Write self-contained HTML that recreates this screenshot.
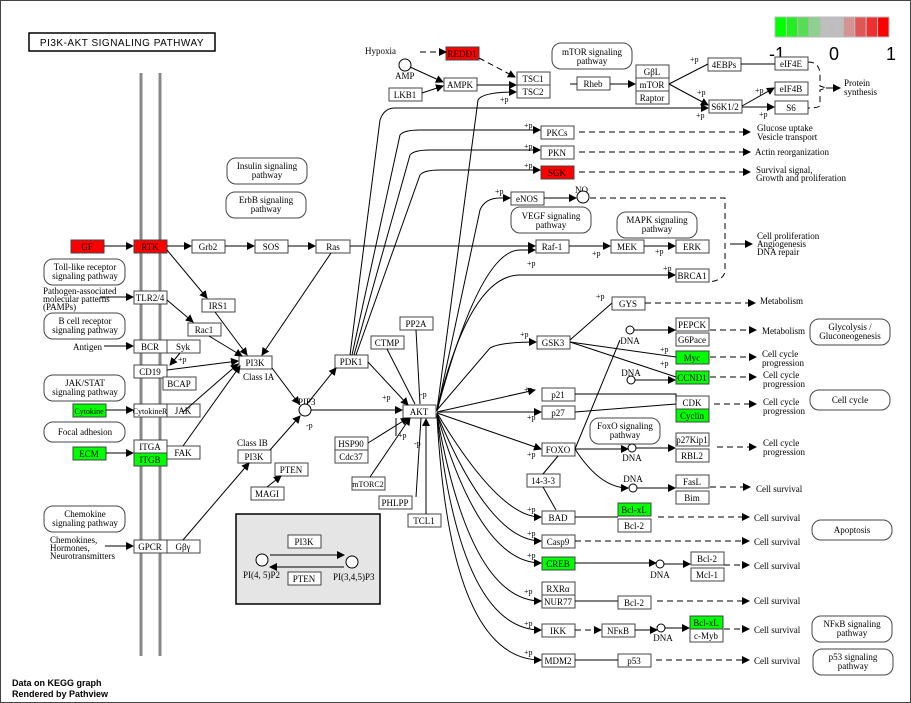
<!DOCTYPE html>
<html><head><meta charset="utf-8"><style>
body{margin:0;background:#fff}
svg{display:block;font-family:"Liberation Serif",serif;font-size:9px}
.b{fill:#fff;stroke:#444;stroke-width:1}
.r{fill:#f00;stroke:#444}
.g{fill:#0f0;stroke:#444}
.l{stroke:#000;fill:none;stroke-width:1}
.d{stroke:#000;fill:none;stroke-dasharray:6,4}
.rd{fill:#fff;stroke:#444;rx:9}
text{fill:#000}
.c{text-anchor:middle}
</style></head><body>
<svg width="911" height="703" viewBox="0 0 911 703">
<defs><marker id="a" markerWidth="8" markerHeight="8" refX="7" refY="4" orient="auto" markerUnits="userSpaceOnUse"><path d="M0,0L8,4L0,8z"/></marker>
<marker id="t" markerWidth="2" markerHeight="10" refX="1" refY="5" orient="auto" markerUnits="userSpaceOnUse"><path d="M1,0V10" stroke="#000"/></marker></defs>
<rect x="0.5" y="0.5" width="910" height="702" fill="#fff" stroke="#444"/>
<rect x="29" y="33" width="186" height="18" fill="#fff" stroke="#000" stroke-width="1.5"/>
<text x="122" y="46" class="c" style="font-family:'Liberation Sans',sans-serif;font-size:10px;letter-spacing:0.5px">PI3K-AKT SIGNALING PATHWAY</text>
<line x1="141" y1="73" x2="141" y2="656" stroke="#888" stroke-width="3"/>
<line x1="160" y1="73" x2="160" y2="656" stroke="#888" stroke-width="3"/>
<g stroke="#bbb"><rect x="775" y="17" width="11.4" height="20" fill="#00ff00"/><rect x="786.4" y="17" width="11.4" height="20" fill="#22ee22"/><rect x="797.8" y="17" width="11.4" height="20" fill="#55dd55"/><rect x="809.2" y="17" width="11.4" height="20" fill="#8fcf8f"/><rect x="820.6" y="17" width="11.4" height="20" fill="#bebebe"/><rect x="832" y="17" width="11.4" height="20" fill="#bebebe"/><rect x="843.4" y="17" width="11.4" height="20" fill="#d49494"/><rect x="854.8" y="17" width="11.4" height="20" fill="#e05555"/><rect x="866.2" y="17" width="11.4" height="20" fill="#ee3030"/><rect x="877.6" y="17" width="11.4" height="20" fill="#ff0000"/></g>
<g style="font-family:'Liberation Sans',sans-serif;font-size:18px" class="c"><text x="777" y="60">-1</text><text x="834" y="60">0</text><text x="891" y="60">1</text></g>
<g class="rd">
<rect class="rd" x="227" y="158" width="80" height="26" rx="9"/><rect class="rd" x="226" y="192" width="80" height="26" rx="9"/>
<rect class="rd" x="44" y="259" width="81" height="26" rx="9"/><rect class="rd" x="44" y="313" width="81" height="26" rx="9"/>
<rect class="rd" x="44" y="375" width="81" height="26" rx="9"/><rect class="rd" x="44" y="422" width="81" height="20" rx="9"/>
<rect class="rd" x="44" y="506" width="81" height="26" rx="9"/>
<rect class="rd" x="552" y="43" width="80" height="26" rx="9"/><rect class="rd" x="511" y="207" width="80" height="26" rx="9"/>
<rect class="rd" x="617" y="212" width="80" height="26" rx="9"/><rect class="rd" x="810" y="319" width="80" height="26" rx="9"/>
<rect class="rd" x="810" y="390" width="80" height="20" rx="9"/><rect class="rd" x="590" y="418" width="70" height="26" rx="9"/>
<rect class="rd" x="812" y="520" width="80" height="20" rx="9"/><rect class="rd" x="812" y="616" width="80" height="26" rx="9"/>
<rect class="rd" x="813" y="649" width="80" height="26" rx="9"/>
</g>
<g class="c">
<text x="267" y="169">Insulin signaling</text><text x="267" y="178">pathway</text>
<text x="266" y="203">ErbB signaling</text><text x="266" y="212">pathway</text>
<text x="85" y="270">Toll-like receptor</text><text x="85" y="279">signaling pathway</text>
<text x="85" y="324">B cell receptor</text><text x="85" y="333">signaling pathway</text>
<text x="85" y="386">JAK/STAT</text><text x="85" y="395">signaling pathway</text>
<text x="85" y="435">Focal adhesion</text>
<text x="85" y="517">Chemokine</text><text x="85" y="526">signaling pathway</text>
<text x="592" y="55">mTOR signaling</text><text x="592" y="64">pathway</text>
<text x="551" y="219">VEGF signaling</text><text x="551" y="228">pathway</text>
<text x="657" y="223">MAPK signaling</text><text x="657" y="232">pathway</text>
<text x="850" y="330">Glycolysis /</text><text x="850" y="339">Gluconeogenesis</text>
<text x="850" y="403">Cell cycle</text>
<text x="625" y="429">FoxO signaling</text><text x="625" y="438">pathway</text>
<text x="852" y="533">Apoptosis</text>
<text x="852" y="627">NFκB signaling</text><text x="852" y="636">pathway</text>
<text x="853" y="660">p53 signaling</text><text x="853" y="669">pathway</text>
</g>
<rect x="236" y="514" width="144" height="90" fill="#e5e5e5" stroke="#000" stroke-width="1.5"/>
<g>
<rect class="r" x="71" y="240" width="33" height="13"/><rect class="r" x="134" y="240" width="33" height="13"/>
<rect class="b" x="192" y="240" width="33" height="13"/><rect class="b" x="255" y="240" width="33" height="13"/><rect class="b" x="316" y="240" width="34" height="13"/>
<rect class="b" x="134" y="291" width="33" height="13"/><rect class="b" x="202" y="299" width="33" height="13"/><rect class="b" x="188" y="323" width="33" height="13"/>
<rect class="b" x="134" y="340" width="33" height="13"/><rect class="b" x="167" y="340" width="33" height="13"/>
<rect class="b" x="134" y="365" width="33" height="13"/><rect class="b" x="163" y="377" width="33" height="13"/>
<rect class="b" x="239" y="356" width="33" height="13"/>
<rect class="g" x="73" y="404" width="33" height="13"/><rect class="b" x="134" y="404" width="33" height="13"/><rect class="b" x="167" y="404" width="33" height="13"/>
<rect class="g" x="73" y="447" width="33" height="13"/><rect class="b" x="134" y="440" width="33" height="13"/><rect class="g" x="134" y="453" width="33" height="13"/><rect class="b" x="167" y="446" width="33" height="13"/>
<rect class="b" x="134" y="540" width="33" height="13"/><rect class="b" x="167" y="540" width="33" height="13"/>
<rect class="b" x="238" y="450" width="33" height="13"/><rect class="b" x="275" y="463" width="33" height="13"/><rect class="b" x="251" y="487" width="33" height="13"/>
<rect class="b" x="335" y="355" width="33" height="13"/><rect class="b" x="371" y="336" width="33" height="13"/><rect class="b" x="400" y="317" width="33" height="13"/>
<rect class="b" x="403" y="405" width="33" height="13"/>
<rect class="b" x="335" y="437" width="33" height="13"/><rect class="b" x="335" y="450" width="33" height="13"/>
<rect class="b" x="352" y="477" width="33" height="13"/><rect class="b" x="379" y="496" width="33" height="13"/><rect class="b" x="408" y="514" width="33" height="13"/>
<rect class="b" x="288" y="535" width="33" height="13"/><rect class="b" x="288" y="572" width="33" height="13"/>
<rect class="r" x="446" y="47" width="33" height="13"/><rect class="b" x="444" y="78" width="33" height="13"/><rect class="b" x="389" y="88" width="33" height="13"/>
<rect class="b" x="517" y="72" width="33" height="13"/><rect class="b" x="517" y="85" width="33" height="13"/><rect class="b" x="577" y="77" width="33" height="13"/>
<rect class="b" x="636" y="65" width="33" height="13"/><rect class="b" x="636" y="78" width="33" height="13"/><rect class="b" x="636" y="91" width="33" height="13"/>
<rect class="b" x="708" y="58" width="33" height="13"/><rect class="b" x="775" y="57" width="33" height="13"/><rect class="b" x="775" y="82" width="33" height="13"/>
<rect class="b" x="709" y="100" width="33" height="13"/><rect class="b" x="775" y="101" width="33" height="13"/>
<rect class="b" x="541" y="126" width="33" height="13"/><rect class="b" x="541" y="146" width="33" height="13"/><rect class="r" x="541" y="166" width="33" height="13"/>
<rect class="b" x="511" y="192" width="33" height="13"/>
<rect class="b" x="536" y="240" width="33" height="13"/><rect class="b" x="611" y="240" width="33" height="13"/><rect class="b" x="676" y="240" width="33" height="13"/>
<rect class="b" x="676" y="269" width="33" height="13"/><rect class="b" x="612" y="297" width="33" height="13"/><rect class="b" x="537" y="336" width="33" height="13"/>
<rect class="b" x="676" y="318" width="33" height="13"/><rect class="b" x="676" y="333" width="33" height="13"/>
<rect class="g" x="676" y="351" width="33" height="13"/><rect class="g" x="676" y="371" width="33" height="13"/>
<rect class="b" x="542" y="388" width="33" height="13"/><rect class="b" x="542" y="406" width="33" height="13"/>
<rect class="b" x="676" y="396" width="33" height="13"/><rect class="g" x="676" y="409" width="33" height="13"/>
<rect class="b" x="542" y="443" width="33" height="13"/><rect class="b" x="676" y="433" width="33" height="13"/><rect class="b" x="676" y="449" width="33" height="13"/>
<rect class="b" x="527" y="474" width="33" height="13"/><rect class="b" x="676" y="475" width="33" height="13"/><rect class="b" x="676" y="491" width="33" height="13"/>
<rect class="b" x="542" y="511" width="33" height="13"/><rect class="g" x="618" y="503" width="33" height="13"/><rect class="b" x="618" y="519" width="33" height="13"/>
<rect class="b" x="542" y="535" width="33" height="13"/>
<rect class="g" x="542" y="557" width="33" height="13"/><rect class="b" x="691" y="552" width="33" height="13"/><rect class="b" x="691" y="568" width="33" height="13"/>
<rect class="b" x="542" y="582" width="33" height="13"/><rect class="b" x="542" y="595" width="33" height="13"/><rect class="b" x="618" y="596" width="33" height="13"/>
<rect class="b" x="542" y="624" width="33" height="13"/><rect class="b" x="602" y="624" width="33" height="13"/>
<rect class="g" x="690" y="616" width="33" height="13"/><rect class="b" x="690" y="629" width="33" height="13"/>
<rect class="b" x="542" y="654" width="33" height="13"/><rect class="b" x="618" y="654" width="33" height="13"/>
</g>
<g class="c">
<text x="87" y="250">GF</text><text x="150" y="250">RTK</text><text x="208" y="250">Grb2</text><text x="271" y="250">SOS</text><text x="333" y="250">Ras</text>
<text x="150" y="301">TLR2/4</text><text x="218" y="309">IRS1</text><text x="204" y="333">Rac1</text>
<text x="150" y="350">BCR</text><text x="183" y="350">Syk</text><text x="150" y="375">CD19</text><text x="179" y="387">BCAP</text>
<text x="255" y="366">PI3K</text>
<text x="89" y="414" style="font-size:8px">Cytokine</text><text x="150" y="414" style="font-size:8px">CytokineR</text><text x="183" y="414">JAK</text>
<text x="89" y="457">ECM</text><text x="150" y="450">ITGA</text><text x="150" y="463">ITGB</text><text x="183" y="456">FAK</text>
<text x="150" y="550">GPCR</text><text x="183" y="550">Gβγ</text>
<text x="254" y="460">PI3K</text><text x="291" y="473">PTEN</text><text x="267" y="497">MAGI</text>
<text x="351" y="365">PDK1</text><text x="387" y="346">CTMP</text><text x="416" y="327">PP2A</text><text x="419" y="415">AKT</text>
<text x="351" y="447">HSP90</text><text x="351" y="460">Cdc37</text><text x="368" y="487" style="font-size:8px">mTORC2</text><text x="395" y="506">PHLPP</text><text x="424" y="524">TCL1</text>
<text x="304" y="545">PI3K</text><text x="304" y="582">PTEN</text>
<text x="462" y="57">REDD1</text><text x="460" y="88">AMPK</text><text x="405" y="98">LKB1</text>
<text x="533" y="82">TSC1</text><text x="533" y="95">TSC2</text><text x="593" y="87">Rheb</text>
<text x="652" y="75">GβL</text><text x="652" y="88">mTOR</text><text x="652" y="101">Raptor</text>
<text x="724" y="68">4EBPs</text><text x="791" y="67">eIF4E</text><text x="791" y="92">eIF4B</text><text x="725" y="110">S6K1/2</text><text x="791" y="111">S6</text>
<text x="557" y="136">PKCs</text><text x="557" y="156">PKN</text><text x="557" y="176">SGK</text><text x="527" y="202">eNOS</text>
<text x="552" y="250">Raf-1</text><text x="627" y="250">MEK</text><text x="692" y="250">ERK</text><text x="692" y="279">BRCA1</text>
<text x="628" y="307">GYS</text><text x="553" y="346">GSK3</text><text x="692" y="328">PEPCK</text><text x="692" y="343">G6Pace</text>
<text x="692" y="361">Myc</text><text x="692" y="381">CCND1</text><text x="558" y="398">p21</text><text x="558" y="416">p27</text>
<text x="692" y="406">CDK</text><text x="692" y="419">Cyclin</text><text x="558" y="453">FOXO</text><text x="692" y="443">p27Kip1</text><text x="692" y="459">RBL2</text>
<text x="543" y="484">14-3-3</text><text x="692" y="485">FasL</text><text x="692" y="501">Bim</text>
<text x="558" y="521">BAD</text><text x="634" y="513">Bcl-xL</text><text x="634" y="529">Bcl-2</text><text x="558" y="545">Casp9</text>
<text x="558" y="567">CREB</text><text x="707" y="562">Bcl-2</text><text x="707" y="578">Mcl-1</text>
<text x="558" y="592">RXRα</text><text x="558" y="605">NUR77</text><text x="634" y="606">Bcl-2</text>
<text x="558" y="634">IKK</text><text x="618" y="634">NFκB</text><text x="706" y="626">Bcl-xL</text><text x="706" y="639">c-Myb</text>
<text x="558" y="664">MDM2</text><text x="634" y="664">p53</text>
</g>
<text x="43" y="294">Pathogen-associated</text><text x="43" y="302">molecular patterns</text><text x="43" y="310">(PAMPs)</text>
<text x="73" y="350">Antigen</text><text x="243" y="380">Class IA</text><text x="237" y="446">Class IB</text>
<text x="50" y="543">Chemokines,</text><text x="50" y="551">Hormones,</text><text x="50" y="559">Neurotransmitters</text>
<text x="365" y="54">Hypoxia</text><text x="395" y="79">AMP</text><text x="298" y="405">PIP3</text>
<text x="243" y="578">PI(4, 5)P2</text><text x="333" y="580">PI(3,4,5)P3</text>
<text x="844" y="86">Protein</text><text x="844" y="95">synthesis</text>
<text x="757" y="131">Glucose uptake</text><text x="757" y="140">Vesicle transport</text>
<text x="755" y="155">Actin reorganization</text>
<text x="756" y="173">Survival signal,</text><text x="756" y="181">Growth and proliferation</text>
<text x="757" y="239">Cell proliferation</text><text x="757" y="247">Angiogenesis</text><text x="757" y="255">DNA repair</text>
<text x="760" y="304">Metabolism</text><text x="762" y="334">Metabolism</text>
<text x="762" y="357">Cell cycle</text><text x="762" y="366">progression</text>
<text x="763" y="378">Cell cycle</text><text x="763" y="387">progression</text>
<text x="763" y="405">Cell cycle</text><text x="763" y="414">progression</text>
<text x="763" y="446">Cell cycle</text><text x="763" y="455">progression</text>
<text x="756" y="492">Cell survival</text><text x="754" y="521">Cell survival</text><text x="754" y="545">Cell survival</text>
<text x="754" y="569">Cell survival</text><text x="754" y="604">Cell survival</text><text x="754" y="633">Cell survival</text><text x="754" y="664">Cell survival</text>
<text x="575" y="193">NO</text>
<g class="c"><text x="630" y="344">DNA</text><text x="631" y="376">DNA</text><text x="632" y="461">DNA</text><text x="633" y="482">DNA</text><text x="660" y="578">DNA</text><text x="663" y="641">DNA</text></g>
<g style="font-size:8px"><text x="524" y="128">+p</text><text x="524" y="149">+p</text><text x="524" y="168">+p</text><text x="495" y="194">+p</text>
<text x="500" y="102">+p</text><text x="690" y="62">+p</text><text x="696" y="118">+p</text><text x="697" y="95">+p</text><text x="755" y="93">+p</text><text x="759" y="117">+p</text>
<text x="592" y="256">+p</text><text x="655" y="254">+p</text><text x="527" y="266">+p</text><text x="663" y="271">+p</text><text x="596" y="299">+p</text>
<text x="520" y="337">+p</text><text x="660" y="352">+p</text><text x="660" y="366">+p</text><text x="524" y="392">+p</text><text x="527" y="420">+p</text><text x="527" y="457">+p</text>
<text x="527" y="512">+p</text><text x="527" y="536">+p</text><text x="527" y="558">+p</text><text x="524" y="594">+p</text><text x="524" y="626">+p</text><text x="524" y="655">+p</text>
<text x="382" y="400">+p</text><text x="420" y="397">-p</text><text x="398" y="438">+p</text><text x="414" y="446">-p</text><text x="306" y="428">-p</text><text x="178" y="362">+p</text></g>
<g fill="#fff" stroke="#000"><circle cx="405" cy="65" r="6"/><circle cx="305" cy="410" r="6"/><circle cx="583" cy="197" r="6"/>
<circle cx="262" cy="560" r="6"/><circle cx="352" cy="562" r="6"/>
<circle cx="630" cy="330" r="4"/><circle cx="631" cy="380" r="4"/><circle cx="632" cy="448" r="4"/><circle cx="633" cy="488" r="4"/><circle cx="660" cy="564" r="4"/><circle cx="661" cy="628" r="4"/></g>
<g class="l" marker-end="url(#a)">
<path d="M104,246H133"/><path d="M167,246H191"/><path d="M225,246H254"/><path d="M288,246H315"/>
<path d="M100,297H133"/><path d="M104,346H133"/><path d="M106,410H133"/><path d="M106,453H133"/><path d="M105,546H133"/>
<path d="M167,250L207,298"/><path d="M167,300L193,322"/><path d="M215,312L247,355"/><path d="M209,336L242,356"/><path d="M331,253L262,355"/>
<path d="M167,370L238,361"/><path d="M183,412L238,364"/><path d="M183,446L240,366"/><path d="M183,540L249,463"/><path d="M180,353L170,365"/>
<path d="M272,368L299,404"/><path d="M311,410H402"/><path d="M307,404L336,368"/><path d="M368,362L408,405"/><path d="M368,443L408,418"/><path d="M370,477L410,418"/><path d="M426,514V419"/>
<path d="M270,450L300,416"/><path d="M267,487L281,476"/>
<path d="M270,555H344"/><path d="M344,567H270"/>
<path d="M420,52H446" class="d"/><path d="M410,67L443,82"/><path d="M422,93L443,86"/>
<path d="M477,85H516"/><path d="M479,58L515,77" class="d"/><path d="M610,84H635"/><path d="M669,84L708,105"/><path d="M742,106L774,88"/><path d="M742,107H774"/>
<path d="M350,355L380,120Q384,108 395,108H708"/><path d="M352,355L400,135Q404,130 420,130H540"/><path d="M354,355L410,155Q414,150 430,150H540"/><path d="M356,355L420,175Q424,170 440,170H540"/>
<path d="M437,411L480,210Q485,198 500,198H510"/><path d="M544,198H576"/><path d="M350,246H535"/><path d="M569,246H610"/><path d="M644,246H675"/>
<path d="M579,132H750" class="d"/><path d="M579,152H750" class="d"/><path d="M579,172H750" class="d"/>
<path d="M645,303H755" class="d"/><path d="M710,330H756" class="d"/><path d="M710,357H756" class="d"/><path d="M710,377H756" class="d"/><path d="M714,404H756" class="d"/><path d="M717,447H756" class="d"/><path d="M710,487H750" class="d"/>
<path d="M658,517H749" class="d"/><path d="M575,541H749" class="d"/><path d="M724,565H749" class="d"/><path d="M657,601H749" class="d"/><path d="M724,629H749" class="d"/><path d="M656,660H749" class="d"/>
<path d="M634,330H675"/><path d="M635,380H675"/><path d="M575,449H628"/><path d="M636,448H675"/><path d="M637,488H675"/><path d="M575,563H656"/><path d="M664,564H690"/>
<path d="M575,630H601" class="d"/><path d="M635,630H657"/><path d="M665,628H689"/>
<path d="M437,411Q480,250 520,250H535"/><path d="M437,412L535,390"/><path d="M437,412L541,412"/><path d="M437,413L541,449"/>
<path d="M437,413Q500,518 541,517"/><path d="M437,414Q490,541 541,541"/><path d="M437,414Q480,563 541,563"/><path d="M437,415Q470,601 541,601"/><path d="M437,415Q460,630 541,630"/><path d="M437,416Q450,660 541,660"/>
<path d="M437,410Q470,275 520,275H675"/><path d="M437,410L490,348Q500,342 536,342"/><path d="M437,410L478,100Q482,92 516,92"/>
<path d="M575,449Q600,488 628,488"/><path d="M826,88H840"/><path d="M730,244H752"/>
</g>
<g class="l"><path d="M396,418V436"/><path d="M416,497L421,418"/><path d="M387,349L415,404"/><path d="M416,330L420,404"/>
<path d="M570,84H577"/><path d="M741,64H775"/><path d="M669,84L708,64"/><path d="M570,340L612,303"/><path d="M570,342L676,357"/><path d="M570,342L676,377"/><path d="M575,394H676V401"/><path d="M575,412L676,404"/>
<path d="M575,449L620,340"/><path d="M575,517H618"/><path d="M575,601H618"/><path d="M575,660H618"/><path d="M543,487L556,510"/><path d="M543,474L558,456"/>
<path d="M808,62Q820,62 820,75V86L826,88L820,90V105Q820,108 808,108" class="d"/>
<path d="M590,198H725V270Q725,280 709,282" class="d"/></g>
<text x="12" y="686" style="font-family:'Liberation Sans',sans-serif;font-size:9px;font-weight:bold">Data on KEGG graph</text>
<text x="12" y="697" style="font-family:'Liberation Sans',sans-serif;font-size:9px;font-weight:bold">Rendered by Pathview</text>
</svg>
</body></html>
